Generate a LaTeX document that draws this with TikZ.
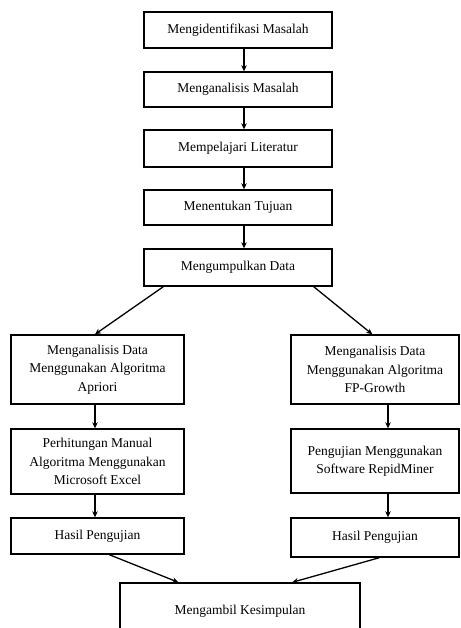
\documentclass[tikz,border=0pt]{standalone}
\usepackage{fontspec}
\setmainfont{Liberation Serif}
\usetikzlibrary{arrows.meta,calc}
\begin{document}
\begin{tikzpicture}[x=1pt,y=-1pt,
  box/.style={draw=black,line width=1.4pt,rectangle,align=center,inner sep=2pt,
    font=\fontsize{13.5}{18.5}\selectfont,text=black},
  arr/.style={line width=1.3pt,-{Stealth[length=6pt,width=5.5pt]}}]
\useasboundingbox (0,0) rectangle (460,628);
\fill[white] (0,0) rectangle (460,628);
\clip (0,0) rectangle (460,628);
% top column
\node[box,minimum width=188pt,minimum height=36pt] (b1) at (238,30) {Mengidentifikasi Masalah};
\node[box,minimum width=188pt,minimum height=35pt] (b2) at (238,89.5) {Menganalisis Masalah};
\node[box,minimum width=188pt,minimum height=37pt] (b3) at (238,148.5) {Mempelajari Literatur};
\node[box,minimum width=188pt,minimum height=35pt] (b4) at (238,207.5) {Menentukan Tujuan};
\node[box,minimum width=188pt,minimum height=37pt] (b5) at (238,267.5) {Mengumpulkan Data};
% left column
\node[box,minimum width=173pt,minimum height=69pt] (l1) at (97.5,369.5) {Menganalisis Data\\Menggunakan Algoritma\\Apriori};
\node[box,minimum width=173pt,minimum height=65pt] (l2) at (97.5,461.5) {Perhitungan Manual\\Algoritma Menggunakan\\Microsoft Excel};
\node[box,minimum width=173pt,minimum height=36pt] (l3) at (97.5,536) {Hasil Pengujian};
% right column
\node[box,minimum width=168pt,minimum height=69pt] (r1) at (375,369.5) {Menganalisis Data\\Menggunakan Algoritma\\FP-Growth};
\node[box,minimum width=168pt,minimum height=64pt] (r2) at (375,461) {Pengujian Menggunakan\\Software RepidMiner};
\node[box,minimum width=168pt,minimum height=39pt] (r3) at (375,537.5) {Hasil Pengujian};
% final
\node[box,minimum width=240pt,minimum height=56pt] (fin) at (240,611) {Mengambil Kesimpulan};
% arrow guide coordinates
\coordinate (cx) at (244,0);
\coordinate (lx) at (95,0);
\coordinate (rx) at (388,0);
\draw[arr] (b1.south -| cx) -- (b2.north -| cx);
\draw[arr] (b2.south -| cx) -- (b3.north -| cx);
\draw[arr] (b3.south -| cx) -- (b4.north -| cx);
\draw[arr] (b4.south -| cx) -- (b5.north -| cx);
\draw[arr] ($(b5.south west)+(20,0)$) -- (l1.north -| lx);
\draw[arr] ($(b5.south east)+(-19,0)$) -- ($(r1.north west)+(82,0)$);
\draw[arr] (l1.south -| lx) -- (l2.north -| lx);
\draw[arr] (l2.south -| lx) -- (l3.north -| lx);
\draw[arr] (r1.south -| rx) -- (r2.north -| rx);
\draw[arr] (r2.south -| rx) -- (r3.north -| rx);
\draw[arr] ($(l3.south west)+(99,0)$) -- ($(fin.north west)+(59,0)$);
\draw[arr] ($(r3.south west)+(89,0)$) -- ($(fin.north west)+(173,0)$);
\end{tikzpicture}
\end{document}
